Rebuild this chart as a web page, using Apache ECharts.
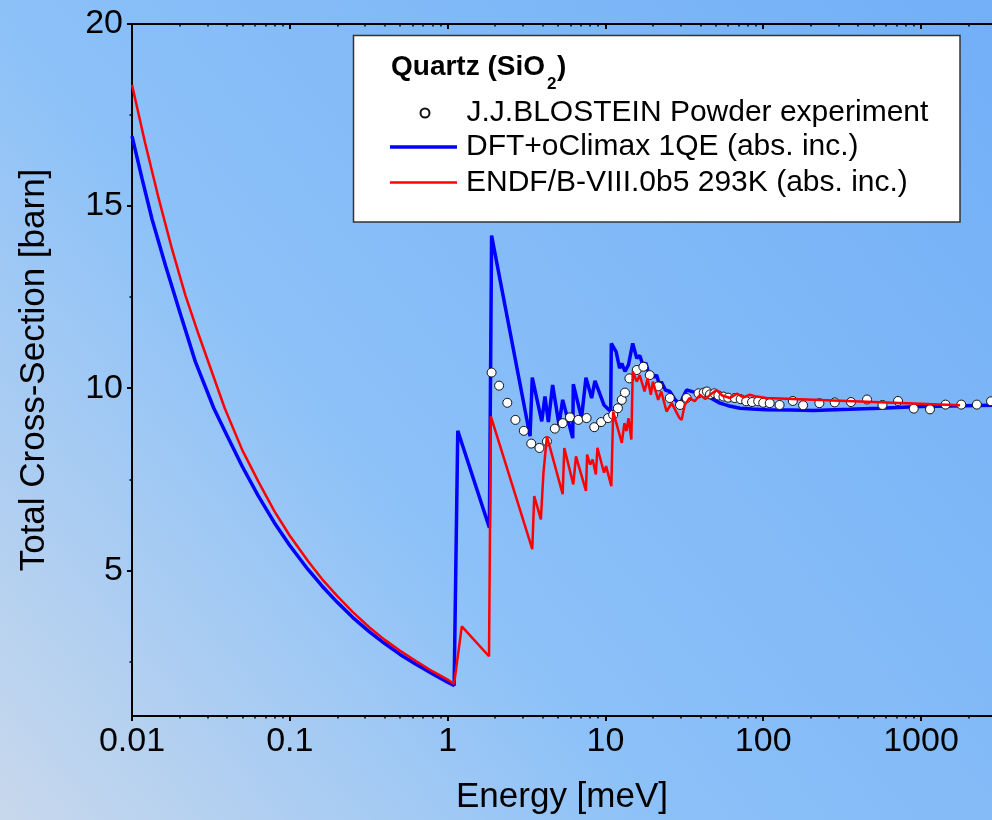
<!DOCTYPE html>
<html>
<head>
<meta charset="utf-8">
<script src="https://cdn.jsdelivr.net/npm/echarts@6/dist/echarts.min.js"></script>
<style>
  html, body { margin: 0; padding: 0; }
  #chart { width: 992px; height: 820px; }
</style>
</head>
<body>
<div id="chart"></div>
<script>
// ---- Data ----
const energyTickLabels = [0.01, 0.1, 1, 10, 100, 1000];
const sigmaTickLabels = [5, 10, 15, 20];
const sigmaMinorTicks = [2.5, 7.5, 12.5, 17.5];

const dftE = [0.01, 0.0116, 0.0134, 0.0163, 0.0207, 0.0252, 0.033, 0.04, 0.05, 0.063, 0.08, 0.1, 0.13, 0.16, 0.2, 0.25, 0.32, 0.4, 0.5, 0.63, 0.8, 1.0, 1.1,
  1.16, 1.84, 1.90, 3.33, 3.44, 3.95, 4.14, 4.35, 4.63, 5.08, 5.36, 6.21, 6.26, 7.06, 7.53, 8.18, 8.59, 9.79, 10.8, 10.9, 11.7, 12.3, 12.7, 13.3, 14.0, 14.9, 15.8, 16.5, 17.4, 18.0, 18.7, 19.7, 20.4, 21.1, 22.0, 22.6, 24.0, 25.6, 27.5, 29.7, 31.0, 32.7, 36.0, 39.8, 44, 48, 53.2, 60, 71.3, 85, 105, 150, 208, 350, 550, 1000, 2818];
const dftSigma = [16.92, 15.74, 14.64, 13.37, 11.91, 10.73, 9.45, 8.7, 7.85, 7.05, 6.3, 5.68, 5.03, 4.57, 4.12, 3.71, 3.31, 2.99, 2.69, 2.42, 2.16, 1.93, 1.84,
  8.83, 6.17, 14.19, 8.68, 10.29, 9.09, 9.77, 9.07, 10.09, 9.0, 9.68, 8.63, 10.11, 9.18, 10.29, 9.73, 10.2, 9.54, 9.36, 11.23, 11.0, 10.55, 10.68, 10.46, 10.64, 11.23, 10.82, 10.9, 10.6, 10.7, 10.45, 10.4, 10.3, 10.36, 10.1, 10.18, 9.95, 9.91, 9.7, 9.54, 9.75, 9.95, 9.9, 9.86, 9.8, 9.7, 9.59, 9.52, 9.45, 9.43, 9.41, 9.4, 9.39, 9.42, 9.45, 9.5, 9.53];

const endfE = [0.01, 0.0121, 0.0148, 0.0179, 0.0218, 0.0265, 0.0387, 0.05, 0.063, 0.08, 0.1, 0.13, 0.16, 0.2, 0.25, 0.32, 0.4, 0.5, 0.63, 0.8, 1.0, 1.1,
  1.23, 1.83, 1.88, 3.44, 3.54, 3.90, 4.05, 4.15, 4.26, 5.36, 5.49, 6.26, 6.51, 7.53, 7.66, 8.0, 8.3, 8.7, 8.9, 9.8, 10.1, 10.9, 11.2, 12.7, 13.2, 13.6, 14.0, 14.6, 14.9, 15.8, 16.5, 17.7, 18.5, 19.4, 20.0, 21.6, 22.6, 24.4, 26.3, 29.5, 30.4, 31.8, 34.2, 36.8, 39.8, 43, 47, 50.7, 55, 61.7, 68, 75, 82, 91, 105, 1766];
const endfSigma = [18.33, 16.74, 15.19, 13.83, 12.55, 11.46, 9.45, 8.3, 7.45, 6.62, 5.95, 5.26, 4.76, 4.29, 3.86, 3.43, 3.09, 2.79, 2.51, 2.23, 2.0, 1.88,
  3.46, 2.64, 9.23, 5.58, 7.04, 6.40, 7.68, 7.63, 8.68, 7.09, 8.36, 7.36, 8.13, 7.18, 8.18, 7.9, 8.04, 7.63, 8.36, 7.68, 7.86, 7.31, 9.36, 8.50, 9.04, 8.82, 9.18, 8.59, 10.46, 10.18, 10.36, 9.91, 10.27, 9.82, 10.18, 9.68, 9.91, 9.36, 9.59, 9.18, 9.13, 9.54, 9.73, 9.64, 9.82, 9.7, 9.85, 9.95, 9.8, 9.73, 9.85, 9.75, 9.82, 9.77, 9.73, 9.53];

const expE = [1.90, 2.12, 2.39, 2.69, 3.04, 3.39, 3.82, 4.26, 4.78, 5.36, 5.96, 6.74, 7.6, 8.5, 9.4, 10.4, 11.2, 12.0, 12.7, 13.3, 14.2, 15.8, 17.4, 19.1, 21.6, 25.6, 29.7, 32.7, 38.9,
  42, 44, 46, 49, 52, 56, 60, 66, 72, 78, 85, 93, 100, 110, 127, 154, 179, 227, 284, 360, 455, 570, 715, 900, 1140, 1430, 1800, 2260, 2780];
const expSigma = [10.43, 10.07, 9.60, 9.13, 8.83, 8.48, 8.36, 8.54, 8.89, 9.04, 9.20, 9.13, 9.18, 8.93, 9.07, 9.18, 9.27, 9.45, 9.68, 9.88, 10.27, 10.50, 10.59, 10.36, 10.05, 9.73, 9.54, 9.73, 9.86,
  9.88, 9.91, 9.83, 9.86, 9.80, 9.77, 9.74, 9.73, 9.70, 9.64, 9.62, 9.64, 9.60, 9.59, 9.54, 9.65, 9.53, 9.59, 9.61, 9.62, 9.69, 9.54, 9.65, 9.44, 9.42, 9.55, 9.55, 9.55, 9.64];

const seriesNames = ['J.J.BLOSTEIN Powder experiment', 'DFT+oClimax 1QE (abs. inc.)', 'ENDF/B-VIII.0b5 293K (abs. inc.)'];

// minor tick positions of the log axis (2..9 per decade)
const energyMinorTicks = [];
for (let d = -2; d <= 3; d++) {
  for (let m = 2; m <= 9; m++) {
    const v = +(m * Math.pow(10, d)).toPrecision(3);
    if (v < 2818) energyMinorTicks.push(v);
  }
}

const zip = (a, b) => a.map((x, i) => [x, b[i]]);
const FONT = "'Liberation Sans', Arial, Helvetica, sans-serif";
const X_MIN = 0.01, X_MAX = 2818, Y_MIN = 1, Y_MAX = 20;

const chart = echarts.init(document.getElementById('chart'), null, { renderer: 'canvas' });

const baseX = {
  type: 'log', logBase: 10, min: X_MIN, max: X_MAX,
  splitLine: { show: false }, minorTick: { show: false }, minorSplitLine: { show: false }
};
const baseY = {
  type: 'value', min: Y_MIN, max: Y_MAX, splitLine: { show: false }
};

const legendText = { fontFamily: FONT, fontSize: 30, color: '#000' };

const option = {
  animation: false,
  backgroundColor: {
    type: 'linear', x: 0, y: 1, x2: 1, y2: 0,
    colorStops: [
      { offset: 0, color: '#c8d8ec' },
      { offset: 0.4, color: '#8cc1f8' },
      { offset: 1, color: '#72aff7' }
    ]
  },
  grid: { left: 132, top: 24, right: 0, bottom: 101, containLabel: false },
  xAxis: [
    Object.assign({}, baseX, {
      position: 'bottom',
      name: 'Energy [meV]', nameLocation: 'middle', nameGap: 64,
      nameTextStyle: { fontFamily: FONT, fontSize: 35, color: '#000' },
      axisLine: { show: true, onZero: false, lineStyle: { color: '#000', width: 2 } },
      axisTick: { show: true, inside: false, length: 5, lineStyle: { color: '#000', width: 2 }, customValues: energyTickLabels },
      axisLabel: { show: true, margin: 9, fontFamily: FONT, fontSize: 34, color: '#000', customValues: energyTickLabels,
        formatter: v => String(+(+v).toPrecision(3)) }
    }),
    Object.assign({}, baseX, {
      position: 'bottom',
      axisLine: { show: false },
      axisTick: { show: true, inside: false, length: 2.5, lineStyle: { color: '#000', width: 1.5 }, customValues: energyMinorTicks },
      axisLabel: { show: false }
    }),
    Object.assign({}, baseX, {
      position: 'top',
      axisLine: { show: true, onZero: false, lineStyle: { color: '#000', width: 2 } },
      axisTick: { show: true, inside: true, length: 5, lineStyle: { color: '#000', width: 2 }, customValues: energyTickLabels },
      axisLabel: { show: false }
    }),
    Object.assign({}, baseX, {
      position: 'top',
      axisLine: { show: false },
      axisTick: { show: true, inside: true, length: 2.5, lineStyle: { color: '#000', width: 1.5 }, customValues: energyMinorTicks },
      axisLabel: { show: false }
    })
  ],
  yAxis: [
    Object.assign({}, baseY, {
      position: 'left',
      name: 'Total Cross-Section [barn]', nameLocation: 'middle', nameGap: 80, nameRotate: 90,
      nameTextStyle: { fontFamily: FONT, fontSize: 35, color: '#000' },
      axisLine: { show: true, onZero: false, lineStyle: { color: '#000', width: 2 } },
      axisTick: { show: true, inside: false, length: 5, lineStyle: { color: '#000', width: 2 }, customValues: sigmaTickLabels },
      axisLabel: { show: true, margin: 9, fontFamily: FONT, fontSize: 34, color: '#000', customValues: sigmaTickLabels }
    }),
    Object.assign({}, baseY, {
      position: 'left',
      axisLine: { show: false },
      axisTick: { show: true, inside: false, length: 2.5, lineStyle: { color: '#000', width: 1.5 }, customValues: sigmaMinorTicks },
      axisLabel: { show: false }
    })
  ],
  legend: [
    { data: [{ name: seriesNames[0], icon: 'circle' }], left: 419.5, top: 98, itemWidth: 9, itemHeight: 9,
      textStyle: Object.assign({ padding: [0, 0, 0, 32] }, legendText) },
    { data: [{ name: seriesNames[1], icon: 'rect' }], left: 390, top: 132, itemWidth: 67, itemHeight: 3.5,
      textStyle: Object.assign({ padding: [0, 0, 0, 4] }, legendText) },
    { data: [{ name: seriesNames[2], icon: 'rect' }], left: 390, top: 167.5, itemWidth: 67, itemHeight: 2.5,
      textStyle: Object.assign({ padding: [0, 0, 0, 4] }, legendText) }
  ].map(l => Object.assign({ orient: 'vertical', padding: 0, selectedMode: false, z: 20 }, l)),
  graphic: [
    { type: 'rect', z: 10, shape: { x: 353.5, y: 35.5, width: 606.5, height: 186.5 },
      style: { fill: '#ffffff', stroke: '#333333', lineWidth: 1.5 } },
    { type: 'text', z: 11, x: 391, y: 67,
      style: { text: 'Quartz (SiO', font: 'bold 28px ' + FONT, fill: '#000', verticalAlign: 'middle' } },
    { type: 'text', z: 11, x: 547, y: 84,
      style: { text: '2', font: 'bold 17px ' + FONT, fill: '#000', verticalAlign: 'middle' } },
    { type: 'text', z: 11, x: 557, y: 67,
      style: { text: ')', font: 'bold 28px ' + FONT, fill: '#000', verticalAlign: 'middle' } }
  ],
  series: [
    {
      name: seriesNames[1], type: 'line', xAxisIndex: 0, yAxisIndex: 0, z: 2,
      data: zip(dftE, dftSigma), symbol: 'none', showSymbol: false,
      lineStyle: { color: '#0000ff', width: 3.5 }, itemStyle: { color: '#0000ff' }
    },
    {
      name: seriesNames[0], type: 'scatter', xAxisIndex: 0, yAxisIndex: 0, z: 3,
      data: zip(expE, expSigma), symbol: 'circle', symbolSize: 9,
      itemStyle: { color: '#ffffff', borderColor: '#111111', borderWidth: 1, opacity: 1 }
    },
    {
      name: seriesNames[2], type: 'line', xAxisIndex: 0, yAxisIndex: 0, z: 4,
      data: zip(endfE, endfSigma), symbol: 'none', showSymbol: false,
      lineStyle: { color: '#ff0000', width: 2.5 }, itemStyle: { color: '#ff0000' }
    }
  ]
};
chart.setOption(option);
</script>
</body>
</html>
